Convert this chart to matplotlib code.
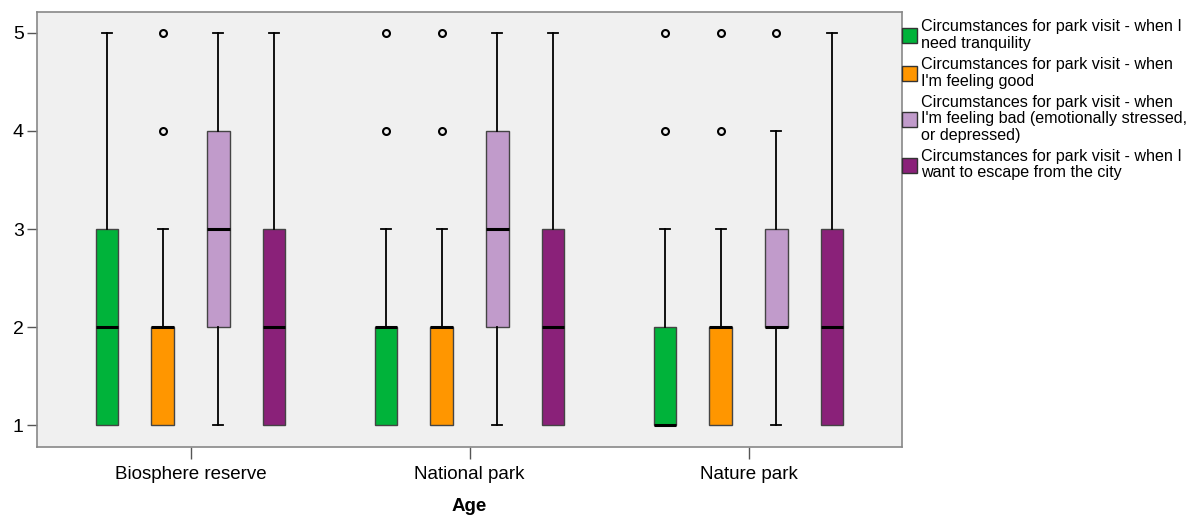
import matplotlib
matplotlib.use("Agg")
import matplotlib.pyplot as plt
from matplotlib.patches import Patch

plt.rcParams['font.family'] = ['Liberation Sans', 'DejaVu Sans']

groups = ["Biosphere reserve", "National park", "Nature park"]
series = [
    "Circumstances for park visit - when I\nneed tranquility",
    "Circumstances for park visit - when\nI'm feeling good",
    "Circumstances for park visit - when\nI'm feeling bad (emotionally stressed,\nor depressed)",
    "Circumstances for park visit - when I\nwant to escape from the city",
]
colors = ["#00B33A", "#FF9600", "#C19BCB", "#8A2179"]

# per group, per series: whisker low, Q1, median, Q3, whisker high
whislo = [[1, 1, 1, 1], [1, 1, 1, 1], [1, 1, 1, 1]]
q1 = [[1, 1, 2, 1], [1, 1, 2, 1], [1, 1, 2, 1]]
med = [[2, 2, 3, 2], [2, 2, 3, 2], [1, 2, 2, 2]]
q3 = [[3, 2, 4, 3], [2, 2, 4, 3], [2, 2, 3, 3]]
whishi = [[5, 3, 5, 5], [3, 3, 5, 5], [3, 3, 4, 5]]
outliers = [
    [[], [4, 5], [], []],
    [[4, 5], [4, 5], [], []],
    [[4, 5], [4, 5], [5], []],
]

yticks = [1, 2, 3, 4, 5]

fig = plt.figure(figsize=(11.99, 5.2), dpi=100)
ax = fig.add_axes([0.0309, 0.1404, 0.7214, 0.8365])
ax.set_facecolor("#F0F0F0")

offsets = [-0.3, -0.1, 0.1, 0.3]
width = 0.08
for g in range(len(groups)):
    for s in range(len(series)):
        stats = [dict(med=med[g][s], q1=q1[g][s], q3=q3[g][s],
                      whislo=whislo[g][s], whishi=whishi[g][s],
                      fliers=outliers[g][s])]
        parts = ax.bxp(stats, positions=[g + offsets[s]], widths=width,
                       capwidths=0.036, patch_artist=True, showfliers=True,
                       boxprops=dict(facecolor=colors[s], edgecolor="#444444", linewidth=1.0),
                       medianprops=dict(color="black", linewidth=2.2),
                       whiskerprops=dict(color="black", linewidth=1.3),
                       capprops=dict(color="black", linewidth=1.3),
                       flierprops=dict(marker="o", markersize=5, markerfacecolor="none",
                                       markeredgecolor="black", markeredgewidth=1.5))
        # a whisker of zero length has no visible cap
        lo_cap, hi_cap = parts["caps"]
        if whislo[g][s] == q1[g][s]:
            lo_cap.set_visible(False)
        if whishi[g][s] == q3[g][s]:
            hi_cap.set_visible(False)

ax.set_xlim(-0.55, 2.55)
ax.set_ylim(0.776, 5.214)
ax.set_xticks(range(len(groups)))
ax.set_xticklabels(groups, fontsize=13.5)
ax.set_yticks(yticks)
ax.set_yticklabels([str(v) for v in yticks], fontsize=14)
ax.tick_params(axis="x", direction="out", length=8.5, width=1, color="#555555", pad=5)
ax.tick_params(axis="y", direction="out", length=7.5, width=1, color="#555555", pad=2)
for sp in ax.spines.values():
    sp.set_color("#888888")
    sp.set_linewidth(1.2)
ax.set_xlabel("Age", fontsize=13.5, fontweight="bold", labelpad=11)

handles = [Patch(facecolor=c, edgecolor="#333333", linewidth=1.0) for c in colors]
leg = ax.legend(handles, series, loc="upper left", bbox_to_anchor=(1.0, 0.983),
                frameon=False, fontsize=11.6, handlelength=0.95, handleheight=1.05,
                handletextpad=0.2, labelspacing=0.39, borderpad=0, borderaxespad=0)
for t in leg.get_texts():
    t.set_linespacing(1.12)

fig.savefig("out.png", dpi=100)
